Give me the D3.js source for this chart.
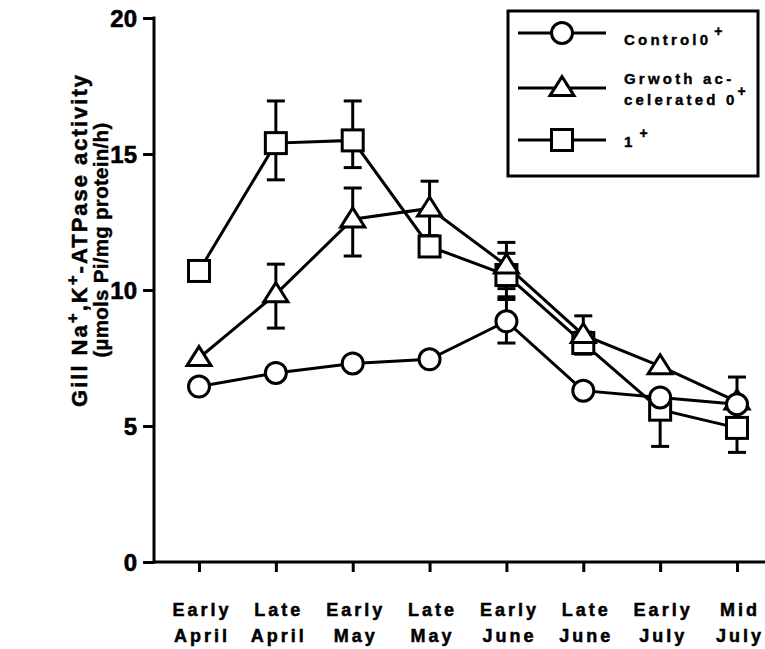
<!DOCTYPE html>
<html>
<head>
<meta charset="utf-8">
<script src="https://cdn.jsdelivr.net/npm/d3@7"></script>
<style>
  body { margin: 0; background: #fff; }
  svg { display: block; }
  text { font-family: "Liberation Sans", Arial, sans-serif; font-weight: bold; fill: #000; }
</style>
</head>
<body>
<svg id="chart" width="765" height="649"></svg>
<script>
// ---- data ----
const categories = ["Early April", "Late April", "Early May", "Late May", "Early June", "Late June", "Early July", "Mid July"];
const labelLine1 = ["Early", "Late", "Early", "Late", "Early", "Late", "Early", "Mid"];
const labelLine2 = ["April", "April", "May", "May", "June", "June", "July", "July"];
const yTicks = [0, 5, 10, 15, 20];

const control = [6.45, 6.95, 7.3, 7.45, 8.85, 6.3, 6.05, 5.8];
const controlErrUp = [0, 0, 0, 0, 0.8, 0, 0, 1.0];
const controlErrDown = [0, 0, 0, 0, 0.8, 0, 0, 1.0];

const accelerated = [7.5, 9.85, 12.6, 13.0, 10.9, 8.35, 7.2, 5.9];
const acceleratedErrUp = [0, 1.1, 1.15, 1.0, 0.85, 0.7, 0, 0];
const acceleratedErrDown = [0, 1.25, 1.35, 1.0, 0.85, 0.7, 0, 0];

const yearling = [10.7, 15.4, 15.5, 11.6, 10.55, 8.05, 5.6, 4.93];
const yearlingErrUp = [0, 1.55, 1.45, 0, 0.8, 0.4, 0, 0];
const yearlingErrDown = [0, 1.35, 1.0, 0, 0.8, 0.4, 1.35, 0.9];

const seriesNames = ["Control0", "Grwoth ac-|celerated 0", "1"];

// ---- layout ----
const svg = d3.select("#chart");
const x = d3.scalePoint().domain(categories).range([199, 737]);
const y = d3.scaleLinear().domain([0, 20]).range([562, 18]);
const axisX0 = 154, axisRight = 765;

// y axis
const yAxis = svg.append("g").attr("transform", `translate(${axisX0},0)`)
  .call(d3.axisLeft(y).tickValues(yTicks).tickSize(11).tickPadding(6).tickFormat(d3.format("d")));
yAxis.select(".domain").remove();
yAxis.selectAll(".tick line").attr("stroke", "#000").attr("stroke-width", 3);
yAxis.selectAll(".tick text").style("font-size", "24px").attr("dy", "0.36em").attr("font-family", null)
  .attr("stroke", "#000").attr("stroke-width", 0.6);
svg.append("line").attr("x1", axisX0).attr("x2", axisX0).attr("y1", y(20) - 1.5).attr("y2", y(0) + 1.5)
  .attr("stroke", "#000").attr("stroke-width", 3);

// x axis
const xAxis = svg.append("g").attr("transform", `translate(0,${y(0)})`)
  .call(d3.axisBottom(x).tickSize(10).tickFormat(""));
xAxis.select(".domain").remove();
xAxis.selectAll(".tick line").attr("stroke", "#000").attr("stroke-width", 3);
svg.append("line").attr("x1", axisX0).attr("x2", axisRight).attr("y1", y(0)).attr("y2", y(0))
  .attr("stroke", "#000").attr("stroke-width", 3);

// x labels
const xl = svg.append("g");
categories.forEach((c, i) => {
  const t = xl.append("text").attr("text-anchor", "middle")
    .style("font-size", "18px").style("letter-spacing", "3px")
    .attr("stroke", "#000").attr("stroke-width", 0.5);
  t.append("tspan").attr("x", x(c) + 3).attr("y", 616).text(labelLine1[i]);
  t.append("tspan").attr("x", x(c) + 3).attr("y", 642).text(labelLine2[i]);
});

// y label
const yl = svg.append("g").attr("transform", "translate(0,240) rotate(-90)");
const l1 = yl.append("text").attr("x", 0).attr("y", 87).attr("text-anchor", "middle")
  .style("font-size", "22px").style("letter-spacing", "2px")
  .attr("stroke", "#000").attr("stroke-width", 0.5);
l1.append("tspan").text("Gill Na");
l1.append("tspan").attr("dy", -9).style("font-size", "17px").text("+");
l1.append("tspan").attr("dy", 9).text(",K");
l1.append("tspan").attr("dy", -9).style("font-size", "17px").text("+");
l1.append("tspan").attr("dy", 9).text("-ATPase  activity");
yl.append("text").attr("x", 0).attr("y", 108).attr("text-anchor", "middle")
  .style("font-size", "20.5px").style("letter-spacing", "0.3px")
  .attr("stroke", "#000").attr("stroke-width", 0.4)
  .text("(\u00b5mols Pi/mg protein/h)");

// ---- series ----
const series = [
  { vals: control, up: controlErrUp, down: controlErrDown, shape: "circle" },
  { vals: accelerated, up: acceleratedErrUp, down: acceleratedErrDown, shape: "triangle" },
  { vals: yearling, up: yearlingErrUp, down: yearlingErrDown, shape: "square" }
];

const sw = 3;
function drawMarker(g, shape, cx, cy) {
  if (shape === "circle") {
    g.append("circle").attr("cx", cx).attr("cy", cy).attr("r", 10.5)
      .attr("fill", "#fff").attr("stroke", "#000").attr("stroke-width", sw);
  } else if (shape === "square") {
    g.append("rect").attr("x", cx - 10.5).attr("y", cy - 10.5).attr("width", 21).attr("height", 21)
      .attr("fill", "#fff").attr("stroke", "#000").attr("stroke-width", sw);
  } else {
    const h = 19, w = 24;
    g.append("path").attr("d", `M${cx},${cy - h * 0.6} L${cx + w / 2},${cy + h * 0.4} L${cx - w / 2},${cy + h * 0.4} Z`)
      .attr("fill", "#fff").attr("stroke", "#000").attr("stroke-width", sw).attr("stroke-linejoin", "miter");
  }
}

const lineGen = d3.line().x((d, i) => x(categories[i])).y(d => y(d));
const gLines = svg.append("g");
const gErr = svg.append("g");
const gMarks = svg.append("g");

series.forEach(s => {
  gLines.append("path").attr("d", lineGen(s.vals)).attr("fill", "none")
    .attr("stroke", "#000").attr("stroke-width", 3);
  s.vals.forEach((v, i) => {
    const cx = x(categories[i]);
    [[s.up[i], 1], [s.down[i], -1]].forEach(([e, dir]) => {
      if (e > 0) {
        const ye = y(v + dir * e);
        gErr.append("line").attr("x1", cx).attr("x2", cx).attr("y1", y(v)).attr("y2", ye)
          .attr("stroke", "#000").attr("stroke-width", 3);
        gErr.append("line").attr("x1", cx - 9).attr("x2", cx + 9).attr("y1", ye).attr("y2", ye)
          .attr("stroke", "#000").attr("stroke-width", 3);
      }
    });
  });
});
// squares first, then triangles, circles on top
series.slice().reverse().forEach(s => {
  s.vals.forEach((v, i) => drawMarker(gMarks, s.shape, x(categories[i]), y(v)));
});

// ---- legend ----
const lg = svg.append("g");
lg.append("rect").attr("x", 508).attr("y", 11).attr("width", 250).attr("height", 165)
  .attr("fill", "#fff").attr("stroke", "#000").attr("stroke-width", 3);
const legRows = [33, 88, 140];
series.forEach((s, i) => {
  lg.append("line").attr("x1", 518).attr("x2", 606).attr("y1", legRows[i]).attr("y2", legRows[i])
    .attr("stroke", "#000").attr("stroke-width", 3);
  drawMarker(lg, s.shape, 562, legRows[i]);
});
function legText(yb) {
  return lg.append("text").attr("x", 624).attr("y", yb).style("font-size", "15px")
    .style("letter-spacing", "3.2px").attr("stroke", "#000").attr("stroke-width", 0.4);
}
let t0 = legText(45);
t0.append("tspan").text(seriesNames[0]);
t0.append("tspan").attr("dx", 3).attr("dy", -9).style("font-size", "14px").text("+");
let t1 = legText(84);
t1.text(seriesNames[1].split("|")[0]);
let t2 = legText(105);
t2.append("tspan").text(seriesNames[1].split("|")[1]);
t2.append("tspan").attr("dy", -9).style("font-size", "14px").text("+");
let t3 = legText(147);
t3.append("tspan").text(seriesNames[2]);
t3.append("tspan").attr("dx", 4).attr("dy", -9).style("font-size", "14px").text("+");
</script>
</body>
</html>
